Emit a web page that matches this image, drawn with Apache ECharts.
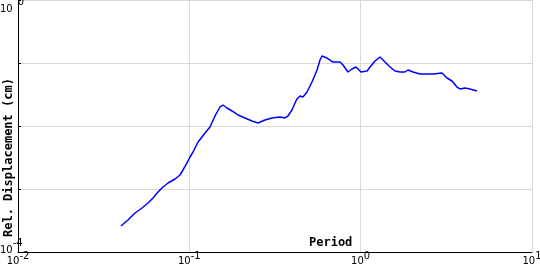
<!DOCTYPE html>
<html><head><meta charset="utf-8">
<script src="https://cdn.jsdelivr.net/npm/echarts@6/dist/echarts.min.js"></script>
<style>html,body{margin:0;padding:0;background:#fff}#c{width:540px;height:270px}</style>
</head><body><div id="c"></div>
<script>
var period = [0.0399,0.04385,0.04818,0.05294,0.05739,0.06138,0.06565,0.07021,0.07508,0.08251,0.08821,0.09183,0.09692,0.1009,0.1051,0.1124,0.1186,0.1234,0.1320,0.1412,0.1510,0.1572,0.1660,0.1774,0.1924,0.2113,0.2321,0.2517,0.2764,0.3038,0.3382,0.3617,0.3766,0.3973,0.4137,0.4249,0.4424,0.4606,0.4861,0.5200,0.5562,0.5790,0.5947,0.6361,0.6894,0.7574,0.7885,0.8435,0.8901,0.9393,0.9647,1.005,1.089,1.134,1.212,1.297,1.387,1.484,1.586,1.697,1.815,1.889,2.021,2.220,2.644,2.984,3.190,3.413,3.650,3.800,4.064,4.346,4.775];
var relDisp = [2.588e-4,3.222e-4,4.158e-4,4.993e-4,5.995e-4,7.197e-4,8.959e-4,1.076e-3,1.245e-3,1.441e-3,1.668e-3,2.003e-3,2.588e-3,3.222e-3,3.868e-3,5.574e-3,6.692e-3,7.743e-3,9.640e-3,1.442e-2,2.003e-2,2.154e-2,1.931e-2,1.731e-2,1.495e-2,1.340e-2,1.200e-2,1.116e-2,1.245e-2,1.340e-2,1.390e-2,1.340e-2,1.442e-2,1.795e-2,2.317e-2,2.683e-2,2.993e-2,2.884e-2,3.466e-2,4.993e-2,7.743e-2,0.1116,0.1292,0.1200,0.1037,0.1037,9.290e-2,7.197e-2,8.035e-2,8.650e-2,8.335e-2,7.197e-2,7.466e-2,8.650e-2,0.1076,0.1245,0.1037,8.650e-2,7.466e-2,7.197e-2,7.197e-2,7.743e-2,7.197e-2,6.692e-2,6.692e-2,6.938e-2,5.780e-2,5.180e-2,4.158e-2,3.868e-2,4.009e-2,3.868e-2,3.594e-2];
var xTickExps = [-2,-1,0,1];
var yShownExps = [-4,0];
var xTitle = 'Period';
var yTitle = 'Rel. Displacement (cm)';

var pts = period.map(function(p,i){return [p, relDisp[i]];});
function expOf(v){return Math.round(Math.log(v)/Math.LN10);}
var F = {fontFamily:'DejaVu Sans',fontSize:10,color:'#000',lineHeight:11};
function st(extra){var o={};for(var k in F)o[k]=F[k];for(var k2 in extra)o[k2]=extra[k2];return o;}
var richX = { b:st({padding:[5,0,0,0]}), s:st({padding:[0,0,5,0]}) };
var richY = { b:st({padding:[7,0,0,0]}), s:st({padding:[0,0,7,0]}), s0:st({padding:[0,0,7,5]}) };
var chart = echarts.init(document.getElementById('c'), null, {renderer:'canvas'});
chart.setOption({
  animation:false,
  backgroundColor:'#fff',
  grid:{left:18,right:8,top:0,bottom:18,containLabel:false,outerBoundsMode:'none'},
  xAxis:{type:'log',min:0.01,max:10,logBase:10,
    axisLine:{show:true,onZero:false,lineStyle:{color:'#000',width:1}},
    axisTick:{show:false},
    splitLine:{show:true,lineStyle:{color:'#d8d8d8',width:1}},
    minorTick:{show:false},
    axisLabel:{margin:1,rich:richX,hideOverlap:false,formatter:function(v){var e=expOf(v);return xTickExps.indexOf(e)>=0?'{b|10}{s|'+e+'}':'';}}
  },
  yAxis:{type:'log',min:1e-4,max:1,logBase:10,
    axisLine:{show:true,onZero:false,lineStyle:{color:'#000',width:1}},
    axisTick:{show:true,inside:true,length:3,lineStyle:{color:'#000'}},
    splitLine:{show:true,lineStyle:{color:'#d8d8d8',width:1}},
    axisLabel:{margin:18,align:'left',rich:richY,hideOverlap:false,verticalAlignMinLabel:'bottom',verticalAlignMaxLabel:'top',
      formatter:function(v){var e=expOf(v);if(yShownExps.indexOf(e)<0)return '';return e===0?'{b|10}{s0|0}':'{b|10}{s|'+e+'}';}}
  },
  graphic:[
    {type:'text',left:309,top:237,style:{text:xTitle,fontFamily:'DejaVu Sans Mono',fontWeight:'bold',fontSize:12,fill:'#000'}},
    {type:'text',x:3,y:237,rotation:Math.PI/2,style:{text:yTitle,fontFamily:'DejaVu Sans Mono',fontWeight:'bold',fontSize:12,fill:'#000',verticalAlign:'top'}}
  ],
  series:[{type:'line',data:pts,showSymbol:false,symbol:'none',smooth:false,
    lineStyle:{color:'#0000ff',width:1.5}}]
});
</script></body></html>
